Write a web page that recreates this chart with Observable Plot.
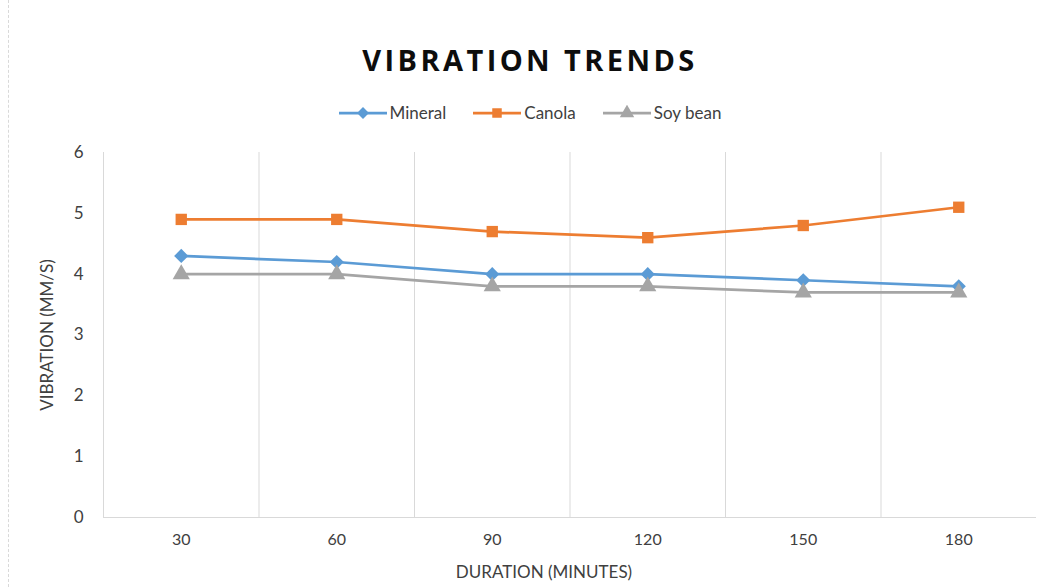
<!DOCTYPE html>
<html><head><meta charset="utf-8">
<script src="https://cdn.jsdelivr.net/npm/d3@7"></script>
<script src="https://cdn.jsdelivr.net/npm/@observablehq/plot@0.6"></script>
<style>
body{margin:0;background:#fff;}
#wrap{width:1046px;height:587px;position:relative;overflow:hidden;font-family:Lato,"Open Sans",sans-serif;color:#404040;}
#border{position:absolute;left:8px;top:0;width:0;height:587px;border-left:1px dashed #d9d9d9;}
#title{height:90px;box-sizing:border-box;padding-top:44px;padding-left:14px;text-align:center;font-family:"Open Sans",sans-serif;font-weight:700;font-size:29px;line-height:32px;letter-spacing:3.4px;color:#0d0d0d;}
#legend{height:45px;box-sizing:border-box;padding-left:14px;display:flex;justify-content:center;align-items:center;gap:27px;font-size:17px;color:#404040;}
.item{display:flex;align-items:center;gap:3px;}
svg.plot{display:block;}
</style></head>
<body><div id="wrap"><div id="border"></div><div id="title">VIBRATION TRENDS</div><div id="legend"></div><div id="chart"></div></div>
<script>
const durations = [30, 60, 90, 120, 150, 180];
const mineral = [4.3, 4.2, 4.0, 4.0, 3.9, 3.8];
const canola = [4.9, 4.9, 4.7, 4.6, 4.8, 5.1];
const soybean = [4.0, 4.0, 3.8, 3.8, 3.7, 3.7];
const seriesNames = ["Mineral", "Canola", "Soy bean"];
const seriesColors = ["#5b9bd5", "#ed7d31", "#a5a5a5"];
const seriesSymbols = ["diamond2", "square", "triangle"];
const yTicks = [0, 1, 2, 3, 4, 5, 6];

const values = [mineral, canola, soybean];
const data = [];
seriesNames.forEach((s, i) => durations.forEach((d, j) => data.push({series: s, duration: d, value: values[i][j]})));

const step = durations[1] - durations[0];
const gridX = durations.slice(0, -1).map(d => d + step / 2);
const xDomain = [durations[0] - step / 2, durations[durations.length - 1] + step / 2];

// legend
const legend = document.getElementById("legend");
seriesNames.forEach((s, i) => {
  const item = document.createElement("div");
  item.className = "item";
  const sym = d3.symbol(d3[{diamond2: "symbolDiamond2", square: "symbolSquare", triangle: "symbolTriangle"}[seriesSymbols[i]]], 90)();
  item.innerHTML = `<svg width="48" height="16"><line x1="0" x2="48" y1="8" y2="8" stroke="${seriesColors[i]}" stroke-width="2.75"/><path d="${sym}" transform="translate(24,8)" fill="${seriesColors[i]}"/></svg><span>${s}</span>`;
  legend.appendChild(item);
});

const chart = Plot.plot({
  width: 1046,
  height: 452,
  marginTop: 17,
  marginBottom: 70,
  marginLeft: 103,
  marginRight: 10,
  style: {fontFamily: "Lato, 'Open Sans', sans-serif", fontSize: "16px", color: "#404040", background: "white"},
  x: {type: "linear", domain: xDomain},
  y: {domain: [0, 6]},
  color: {domain: seriesNames, range: seriesColors},
  symbol: {domain: seriesNames, range: seriesSymbols},
  marks: [
    Plot.ruleX(gridX, {y1: 0, y2: 6, stroke: "#d9d9d9", strokeWidth: 1}),
    Plot.ruleX([xDomain[0]], {y1: 0, y2: 6, stroke: "#d9d9d9", strokeWidth: 1}),
    Plot.ruleY([0], {stroke: "#d9d9d9", strokeWidth: 1}),
    Plot.axisX({ticks: durations, tickSize: 0, tickPadding: 16, tickFormat: d => String(d), label: null, fontSize: 16, style: {letterSpacing: "1px"}}),
    Plot.axisY({ticks: yTicks, tickSize: 0, tickPadding: 20, tickFormat: d3.format("d"), label: null, fontSize: 17}),
    Plot.text(["DURATION (MINUTES)"], {frameAnchor: "bottom", lineAnchor: "middle", textAnchor: "middle", dx: -26, dy: 55, fontSize: 17, fill: "#404040", style: {letterSpacing: "0.6px"}}),
    Plot.text(["VIBRATION (MM/S)"], {frameAnchor: "left", lineAnchor: "middle", textAnchor: "middle", dx: -56, rotate: -90, fontSize: 17, fill: "#404040", style: {letterSpacing: "0.6px"}}),
    Plot.line(data, {x: "duration", y: "value", stroke: "series", z: "series", strokeWidth: 2.75}),
    Plot.dot(data, {x: "duration", y: "value", fill: "series", symbol: "series", r: 6.4, stroke: null})
  ]
});
document.getElementById("chart").appendChild(chart);
</script></body></html>
